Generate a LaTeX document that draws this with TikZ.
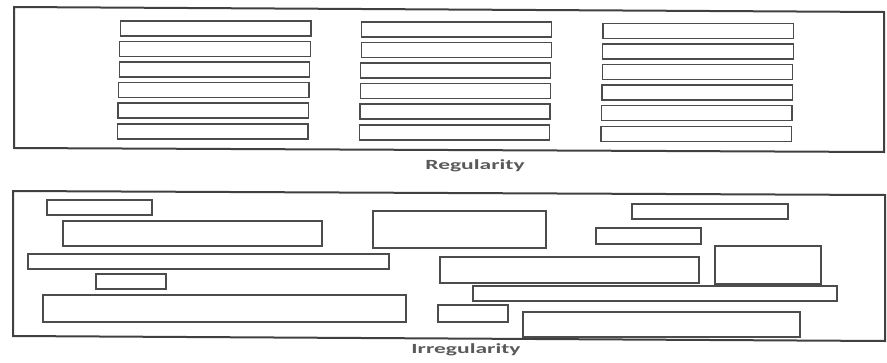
\documentclass[tikz,border=0pt]{standalone}
\usepackage{fontspec}
\setmainfont{Carlito}
\begin{document}
\begin{tikzpicture}[x=1pt,y=-1pt,
  frame/.style={draw=black!75, line width=2pt},
  cell/.style={draw=black!70, line width=1.3pt},
  caption/.style={text=black!65, font=\bfseries\fontsize{14}{14}\selectfont, inner sep=0pt, anchor=base}]
\useasboundingbox (0,0) rectangle (887,362);
% Regularity panel
\draw[frame] (14,7) -- (884,12) -- (884,152) -- (14,148) -- cycle;
\foreach \i/\y in {1/21,2/41.5,3/62,4/82.5,5/103,6/124}{
  \draw[cell] (121-0.6*\i,\y) rectangle (311.5-0.6*\i,\y+15);
  \draw[cell] (362-0.4*\i,\y+1) rectangle (552-0.4*\i,\y+16);
  \draw[cell] (603.5-0.4*\i,\y+2.5) rectangle (794-0.4*\i,\y+17.5);
}
\node[caption] (reg) at (475,169) {\scalebox{1.68}[1]{Regularity}};
% Irregularity panel
\draw[frame] (13,191) -- (885,195) -- (885,341) -- (13,336) -- cycle;
\draw[cell] (47,200) rectangle (152,215);
\draw[cell] (63,221) rectangle (322,246);
\draw[cell] (28,254) rectangle (389,269);
\draw[cell] (96,274) rectangle (166,289);
\draw[cell] (43,295) rectangle (406,322);
\draw[cell] (373,211) rectangle (546,248);
\draw[cell] (632,204) rectangle (788,219);
\draw[cell] (596,228) rectangle (701,244);
\draw[cell] (440,257) rectangle (699,283);
\draw[cell] (715,246) rectangle (821,284);
\draw[cell] (473,286) rectangle (837,301);
\draw[cell] (438,305) rectangle (508,322);
\draw[cell] (523,312) rectangle (800,337);
\node[caption] (irr) at (466,353) {\scalebox{1.68}[1]{Irregularity}};
\end{tikzpicture}
\end{document}
